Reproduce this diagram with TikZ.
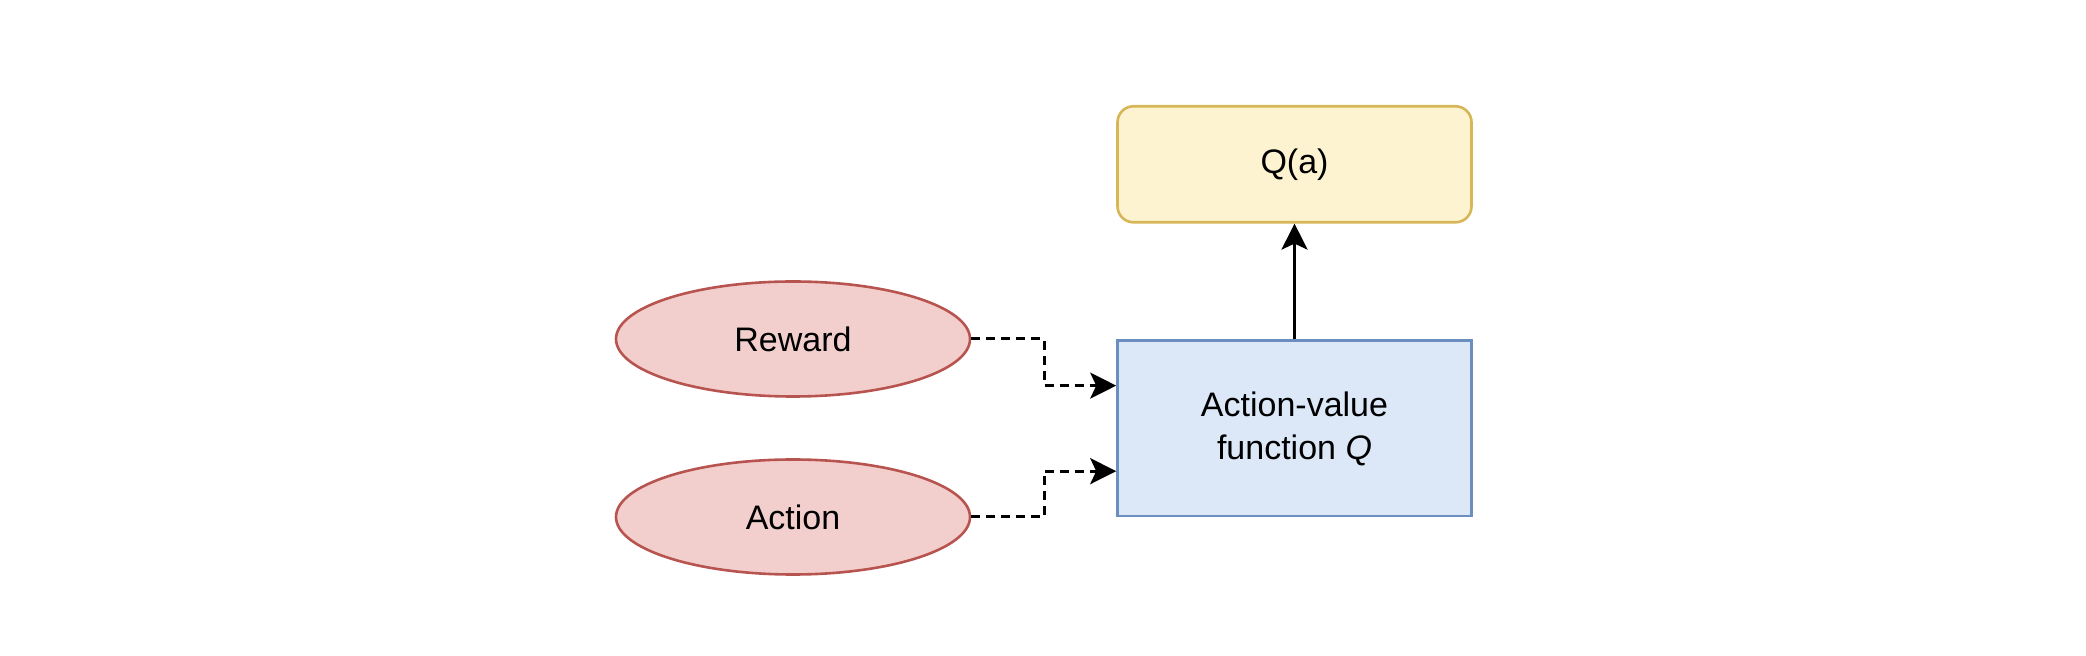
\documentclass[tikz,border=0pt]{standalone}
\usepackage{fontspec}
\setmainfont{Liberation Sans}
\usetikzlibrary{arrows.meta,shapes.geometric,calc}
\definecolor{redfill}{HTML}{F2CFCD}
\definecolor{redline}{HTML}{B85450}
\definecolor{bluefill}{HTML}{DCE7F8}
\definecolor{blueline}{HTML}{6C8EBF}
\definecolor{yelfill}{HTML}{FDF3D0}
\definecolor{yelline}{HTML}{D6B656}
\begin{document}
\begin{tikzpicture}[x=0.5pt,y=-0.5pt,
  every node/.style={font=\fontsize{17pt}{21.5pt}\selectfont, align=center, inner sep=0pt, line width=1.3pt},
  qbox/.style={draw=yelline, fill=yelfill, rounded corners=8pt, minimum width=177pt, minimum height=58pt},
  avbox/.style={draw=blueline, fill=bluefill, minimum width=177pt, minimum height=87.8pt},
  ell/.style={ellipse, draw=redline, fill=redfill, minimum width=177pt, minimum height=57.5pt},
  conn/.style={line width=1.5pt, -{Stealth[length=13pt, width=13pt, inset=3pt]}},
  dconn/.style={conn, dash pattern=on 4.5pt off 3pt}]
\useasboundingbox (0,0) rectangle (2086,656);
\node[qbox] (q) at (1294.5,164.3) {Q(a)};
\node[avbox] (av) at (1294.5,428.4) {Action-value\\function \textit{Q}};
\node[ell] (rew) at (793,339) {Reward};
\node[ell] (act) at (793,517) {Action};
\coordinate (in1) at ($(av.north west)!0.26!(av.south west)$);
\coordinate (in2) at ($(av.north west)!0.74!(av.south west)$);
\coordinate (m1) at (1044,339);
\coordinate (m2) at (1044,517);
\draw[dconn] (rew.east) -- (m1 |- rew.east) |- (in1);
\draw[dconn] (act.east) -- (m2 |- act.east) |- (in2);
\draw[conn] (av.north) -- (q.south);
\end{tikzpicture}
\end{document}
